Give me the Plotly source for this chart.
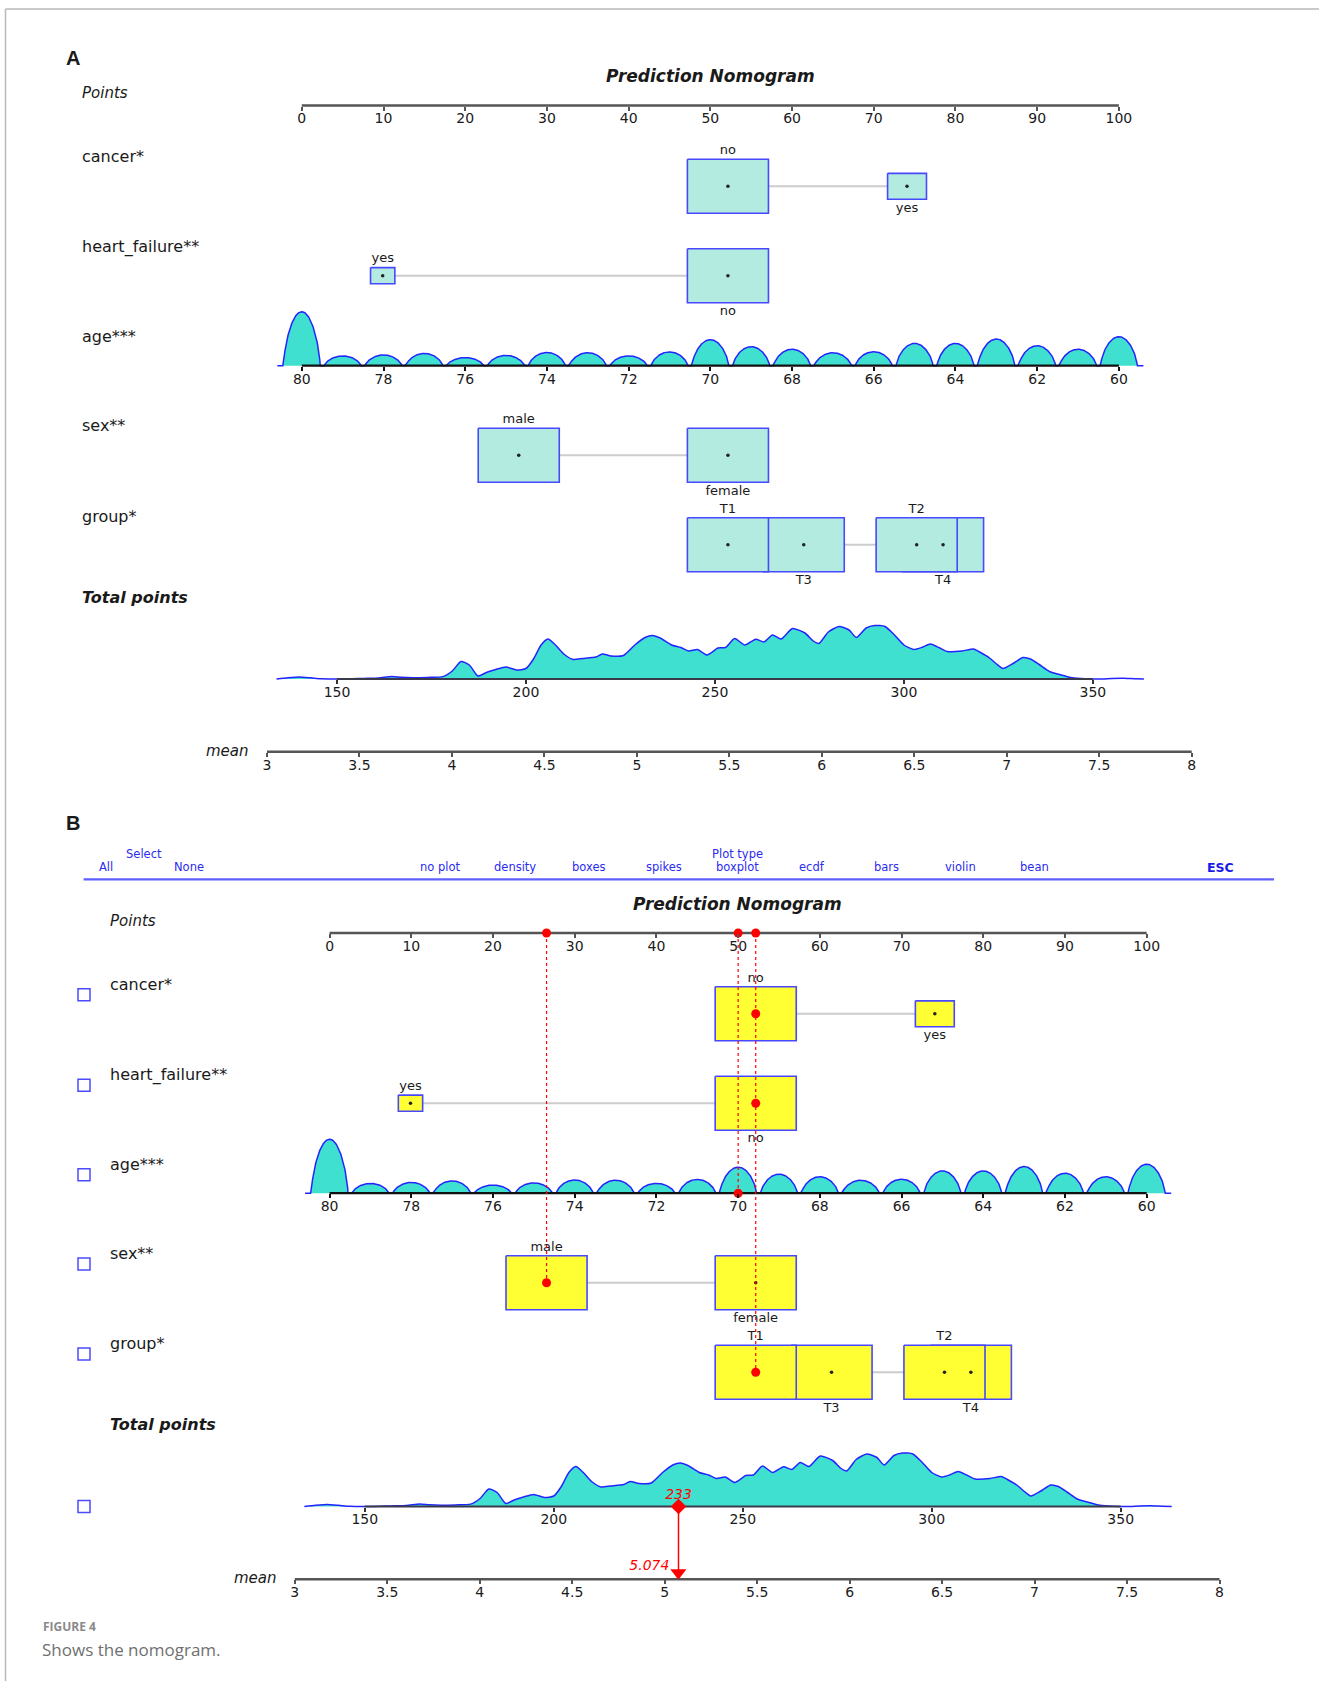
import numpy as np
import plotly.graph_objects as go

W, H = 1319, 1681

# ---------------- nomogram content ----------------
TITLE = "Prediction Nomogram"

POINT_TICKS = [0, 10, 20, 30, 40, 50, 60, 70, 80, 90, 100]
AGE_TICKS = [80, 78, 76, 74, 72, 70, 68, 66, 64, 62, 60]
TOTAL_TICKS = [150, 200, 250, 300, 350]
MEAN_TICKS = [3, 3.5, 4, 4.5, 5, 5.5, 6, 6.5, 7, 7.5, 8]
MEAN_TICK_TEXT = ["3", "3.5", "4", "4.5", "5", "5.5", "6", "6.5", "7", "7.5", "8"]

# categorical predictors: levels, score on the Points scale, relative box size
CANCER_LEVELS = ["no", "yes"]
CANCER_POINTS = [52.15, 74.07]
CANCER_SIZE = [1.0, 0.48]

HF_LEVELS = ["yes", "no"]
HF_POINTS = [9.9, 52.15]
HF_SIZE = [0.30, 1.0]

SEX_LEVELS = ["male", "female"]
SEX_POINTS = [26.55, 52.15]
SEX_SIZE = [1.0, 1.0]

GROUP_LEVELS = ["T1", "T2", "T3", "T4"]
GROUP_POINTS = [52.15, 75.25, 61.43, 78.48]
GROUP_SIZE = [1.0, 1.0, 1.0, 1.0]

# age: linear score, 5 points per year below 80
AGE_ZERO = 80
AGE_POINTS_PER_YEAR = 5
AGE_YEARS = [60, 61, 62, 63, 64, 65, 66, 67, 68, 69, 70,
             71, 72, 73, 74, 75, 76, 77, 78, 79, 80]
AGE_DENSITY = [29.0, 16.5, 20.0, 26.7, 22.3, 22.3, 14.0, 13.0, 16.5, 19.0, 26.0,
               13.8, 9.8, 13.0, 13.2, 10.3, 8.2, 12.3, 10.8, 9.8, 54.0]
AGE_SPAN = [59.4, 80.6]

# distribution of total points
TOTAL_T = [134, 137, 140, 143, 146, 152, 157, 161, 164.5, 167, 170, 174, 178, 180.5,
           182.8, 185, 187.3, 189.5, 192, 194.7, 197.5, 200, 202, 204, 205.8, 207.8,
           210, 212.5, 215, 218.5, 220.2, 222.5, 225.8, 228.8, 231.5, 233.5, 235.5,
           238.5, 241, 243, 245.4, 247.9, 250.8, 252.8, 255.2, 257.9, 260.8, 263,
           265.2, 267.5, 270.5, 273.8, 276, 277.5, 280, 282.8, 285.5, 287.4, 290,
           292.3, 295, 297.5, 300, 302.6, 305, 307, 309.5, 311.5, 315.4, 318.4, 320.5,
           322.5, 324.5, 326.2, 328.9, 331.5, 333.5, 335.8, 338.5, 341.6, 344.5, 348,
           352, 355, 358, 361, 363.5]
TOTAL_D = [0, 1.2, 2.0, 1.2, 0.2, 0, 0.6, 1.0, 2.6, 1.8, 1.3, 1.6, 2.4, 8,
           17.5, 14, 3, 6.5, 9.5, 12, 9, 10.5, 20, 34, 40, 34,
           25, 19.5, 20.5, 22, 25, 23, 23.5, 34, 41.5, 43.5, 41,
           34, 31.5, 28, 29.5, 24, 31, 31.5, 40.5, 34, 39.8, 37,
           44, 40, 50.5, 46, 38, 35.5, 47, 52.5, 49, 41.5, 51,
           53.5, 52.5, 44, 34, 29.5, 32, 35, 31, 27.5, 28, 30, 26,
           21.5, 15, 10.5, 15.5, 21.5, 20, 14.5, 7.5, 4, 1.2, 0.2,
           0, 0.6, 0.8, 0.3, 0]

# the patient evaluated in panel B
OBS = {"cancer*": "no", "heart_failure**": "no", "age***": 70,
       "sex**": "male", "group*": "T1"}
OBS_MEAN = 5.074

MENU_SELECT = ["All", "None"]
MENU_PLOT_TYPES = ["no plot", "density", "boxes", "spikes", "boxplot",
                   "ecdf", "bars", "violin", "bean"]

VARIABLES = [
    ("cancer*", CANCER_LEVELS, CANCER_POINTS, CANCER_SIZE),
    ("heart_failure**", HF_LEVELS, HF_POINTS, HF_SIZE),
    ("age***", None, None, None),
    ("sex**", SEX_LEVELS, SEX_POINTS, SEX_SIZE),
    ("group*", GROUP_LEVELS, GROUP_POINTS, GROUP_SIZE),
]

# ---------------- geometry / styling ----------------
FONT = "DejaVu Sans"
INK = "#1a1a1a"
DENS_LINE = "#2424ff"
BOX_EDGE = "#4848ff"
DENS_FILL = "#40e0d0"
RED = "#ff0000"
MENU_BLUE = "#2b2bef"

PTS_PX0, PTS_SCALE = 301.8, 8.171      # pixel of 0 points, pixels per point
TOT_PX0, TOT_SCALE = 337.0, 3.7795     # pixel of 150 total points
MEAN_PX0, MEAN_SCALE = 267.0, 184.94   # pixel of mean = 3

POINTS_AXIS_Y = 105.5
ROW_LABEL_Y = [156.7, 247.3, 336.7, 426.0, 516.0]
ROW_Y = [186.3, 275.7, 365.7, 455.3, 544.8]
TOTAL_LABEL_Y = 597.4
TOTAL_BASE_Y = 679.0
MEAN_AXIS_Y = 751.7
BOX_W_PTS = 9.92
BOX_H_PX = 54.0
AGE_HALF_WIDTH = 0.45

fig = go.Figure()
axes = {}
n_axes = [0]


def add_xaxis(v0, px0, scale, axis_y=None, ticks=None, ticktext=None,
              tickcolor="#555555", visible=True):
    """Full-width x axis whose value v0 lands on pixel px0 (scale = px per unit)."""
    n_axes[0] += 1
    n = n_axes[0]
    lo = v0 + (0 - px0) / scale
    hi = v0 + (W - px0) / scale
    ax = dict(range=[lo, hi], domain=[0, 1], showgrid=False, zeroline=False,
              showline=False, fixedrange=True, automargin=False)
    if n > 1:
        ax["overlaying"] = "x"
    if visible:
        ax.update(anchor="free", position=1 - axis_y / H, side="bottom",
                  tickmode="array", tickvals=ticks,
                  ticktext=ticktext if ticktext else [str(t) for t in ticks],
                  ticks="outside", ticklen=4, tickwidth=1.5, tickcolor=tickcolor,
                  ticklabelstandoff=-4,
                  tickfont=dict(family=FONT, size=14, color=INK),
                  showticklabels=True)
    else:
        ax["visible"] = False
    axes["xaxis" if n == 1 else f"xaxis{n}"] = ax
    return "x" if n == 1 else f"x{n}"


def ann(text, x, y, size, color=INK, xanchor="left", family=FONT):
    fig.add_annotation(text=text, x=x / W, y=1 - y / H, xref="paper", yref="paper",
                       showarrow=False, xanchor=xanchor, yanchor="middle",
                       font=dict(family=family, size=size, color=color))


def line_trace(xref, xs, ys, color, width, dash="solid"):
    fig.add_trace(go.Scatter(x=xs, y=ys, xaxis=xref, yaxis="y", mode="lines",
                             line=dict(color=color, width=width, dash=dash),
                             hoverinfo="skip", showlegend=False))


def marker_trace(xref, xs, ys, symbol, size, color):
    fig.add_trace(go.Scatter(x=xs, y=ys, xaxis=xref, yaxis="y", mode="markers",
                             marker=dict(symbol=symbol, size=size, color=color,
                                         line=dict(width=0)),
                             cliponaxis=False, hoverinfo="skip", showlegend=False))


def text_trace(xref, xs, ys, texts, size, color=INK, position="middle center"):
    fig.add_trace(go.Scatter(x=xs, y=ys, xaxis=xref, yaxis="y", mode="text",
                             text=texts, textposition=position,
                             textfont=dict(family=FONT, size=size, color=color),
                             cliponaxis=False, hoverinfo="skip", showlegend=False))


def draw_panel(dx, dy, box_fill, obs=None):
    def Y(v):
        return v + dy

    xp = add_xaxis(0, PTS_PX0 + dx, PTS_SCALE, Y(POINTS_AXIS_Y), POINT_TICKS)
    xa = add_xaxis(AGE_ZERO, PTS_PX0 + dx, -PTS_SCALE * AGE_POINTS_PER_YEAR,
                   Y(ROW_Y[2]), AGE_TICKS, tickcolor="#111111")
    xt = add_xaxis(TOTAL_TICKS[0], TOT_PX0 + dx, TOT_SCALE, Y(TOTAL_BASE_Y),
                   TOTAL_TICKS, tickcolor="#333333")
    xm = add_xaxis(MEAN_TICKS[0], MEAN_PX0 + dx, MEAN_SCALE, Y(MEAN_AXIS_Y),
                   MEAN_TICKS, MEAN_TICK_TEXT)
    xo = add_xaxis(0, PTS_PX0 + dx, PTS_SCALE, visible=False)

    # headings
    ann(f"<b><i>{TITLE}</i></b>", 710 + dx, Y(76), 17, xanchor="center")
    ann("<i>Points</i>", 80 + dx, Y(93.3), 15)
    ann("<b><i>Total points</i></b>", 80 + dx, Y(TOTAL_LABEL_Y), 16)
    ann("<i>mean</i>", 251 + dx, Y(750.5), 15, xanchor="right")

    # Points scale
    line_trace(xp, [POINT_TICKS[0], POINT_TICKS[-1]], [Y(POINTS_AXIS_Y)] * 2, "#555555", 2.5)

    obs_marks = []
    for i, (name, levels, pts, size) in enumerate(VARIABLES):
        ann(name, 80 + dx, Y(ROW_LABEL_Y[i]), 16)
        ry = Y(ROW_Y[i])
        if levels is None:
            # age spikes on its own scale
            grid = np.linspace(AGE_SPAN[0], AGE_SPAN[1], 2200)
            dens = np.zeros_like(grid)
            for a, h in zip(AGE_YEARS, AGE_DENSITY):
                u = (grid - a) / AGE_HALF_WIDTH
                dens += h * np.clip(1 - u ** 2, 0, None) ** 0.7
            fig.add_trace(go.Scatter(x=grid, y=ry - dens, xaxis=xa, yaxis="y",
                                     mode="lines", fill="toself", fillcolor=DENS_FILL,
                                     line=dict(color=DENS_LINE, width=1.5),
                                     hoverinfo="skip", showlegend=False))
            line_trace(xa, [AGE_TICKS[0], AGE_TICKS[-1]], [ry, ry], "#111111", 2.2)
            if obs is not None:
                obs_marks.append(((AGE_ZERO - obs[name]) * AGE_POINTS_PER_YEAR, ry))
            continue

        line_trace(xp, [min(pts), max(pts)], [ry, ry], "#cccccc", 2)
        for j in reversed(range(len(levels))):
            w = BOX_W_PTS * size[j]
            h = BOX_H_PX * size[j]
            x0, x1 = pts[j] - w / 2, pts[j] + w / 2
            fig.add_trace(go.Scatter(x=[x0, x1, x1, x0, x0],
                                     y=[ry - h / 2, ry - h / 2, ry + h / 2, ry + h / 2, ry - h / 2],
                                     xaxis=xp, yaxis="y", mode="lines", fill="toself",
                                     fillcolor=box_fill,
                                     line=dict(color=BOX_EDGE, width=1.6),
                                     hoverinfo="skip", showlegend=False))
        chosen = obs[name] if obs is not None else None
        dots = [pts[j] for j in range(len(levels)) if levels[j] != chosen]
        marker_trace(xp, dots, [ry] * len(dots), "circle", 3.5, "#222222")
        if chosen is not None:
            obs_marks.append((pts[levels.index(chosen)], ry))

        # level names alternate above / below along the scale
        order = sorted(range(len(levels)), key=lambda j: pts[j])
        lx, ly, lt = [], [], []
        for rank, j in enumerate(order):
            h = BOX_H_PX * size[j]
            lx.append(pts[j])
            ly.append(ry - h / 2 - 8.5 if rank % 2 == 0 else ry + h / 2 + 9.0)
            lt.append(levels[j])
        text_trace(xp, lx, ly, lt, 13)

    # total points distribution
    tb = Y(TOTAL_BASE_Y)
    fig.add_trace(go.Scatter(x=TOTAL_T, y=[tb - d for d in TOTAL_D], xaxis=xt, yaxis="y",
                             mode="lines", fill="toself", fillcolor=DENS_FILL,
                             line=dict(color=DENS_LINE, width=1.5, shape="spline",
                                       smoothing=0.6),
                             hoverinfo="skip", showlegend=False))
    line_trace(xt, [TOTAL_TICKS[0], TOTAL_TICKS[-1]], [tb, tb], "#3a3a4a", 2)

    # mean scale
    line_trace(xm, [MEAN_TICKS[0], MEAN_TICKS[-1]], [Y(MEAN_AXIS_Y)] * 2, "#555555", 2.5)

    if obs is None:
        return

    # patient: scores
    ay = Y(POINTS_AXIS_Y)
    uniq = {}
    for v, yy in obs_marks:
        key = round(v, 3)
        uniq[key] = max(uniq.get(key, yy), yy)
    for v, ybot in uniq.items():
        line_trace(xo, [v, v], [ay, ybot], RED, 1.2, dash="dot")
    marker_trace(xo, list(uniq.keys()), [ay] * len(uniq), "circle", 9, RED)
    marker_trace(xo, [v for v, _ in obs_marks], [yy for _, yy in obs_marks], "circle", 9, RED)

    total = sum(v for v, _ in obs_marks)
    my = Y(MEAN_AXIS_Y)
    line_trace(xt, [total, total], [tb, my - 6], RED, 1.5)
    marker_trace(xt, [total], [tb], "diamond", 12, RED)
    text_trace(xt, [total], [tb - 11], [f"<i>{total:.0f}</i>"], 14, RED)
    marker_trace(xm, [OBS_MEAN], [my - 6.5], "triangle-down", 14, RED)
    text_trace(xm, [OBS_MEAN], [my - 13], [f"<i>{OBS_MEAN:.3f}</i>  "], 14, RED,
               position="middle left")


# ---------------- panel A ----------------
ann("<b>A</b>", 73, 58, 20, family="Liberation Sans", xanchor="center")
draw_panel(0, 0, "#b3ebe0")

# ---------------- panel B (interactive view with a patient) ----------------
DX_B, DY_B = 27.8, 827.5
ann("<b>B</b>", 73, 822.5, 20, family="Liberation Sans", xanchor="center")

ann("Select", 143.7, 854.5, 11.5, MENU_BLUE, xanchor="center")
for label, x in zip(MENU_SELECT, [106.2, 188.7]):
    ann(label, x, 867.3, 11.5, MENU_BLUE, xanchor="center")
ann("Plot type", 737.8, 854.5, 11.5, MENU_BLUE, xanchor="center")
for k, label in enumerate(MENU_PLOT_TYPES):
    ann(label, 440.8 + 74.26 * k, 867.3, 11.5, MENU_BLUE, xanchor="center")
ann("<b>ESC</b>", 1220.4, 867.3, 12.5, "#1a1ae6", xanchor="center")
fig.add_shape(type="line", xref="paper", yref="paper", x0=83.6 / W, x1=1274 / W,
              y0=1 - 879.4 / H, y1=1 - 879.4 / H, line=dict(color="#5f5fff", width=2.2))

draw_panel(DX_B, DY_B, "#ffff33", obs=OBS)

# check boxes beside each row
for cy in [v + 10.5 + DY_B for v in ROW_LABEL_Y] + [TOTAL_BASE_Y + DY_B]:
    fig.add_shape(type="rect", xref="paper", yref="paper",
                  x0=(84 - 6) / W, x1=(84 + 6) / W, y0=1 - (cy - 6) / H, y1=1 - (cy + 6) / H,
                  line=dict(color="#4b4bff", width=1.5), fillcolor="rgba(0,0,0,0)")

# page frame and caption
fig.add_shape(type="line", xref="paper", yref="paper", x0=5.5 / W, x1=1,
              y0=1 - 9 / H, y1=1 - 9 / H, line=dict(color="#b8b8b8", width=1.5))
fig.add_shape(type="line", xref="paper", yref="paper", x0=5.5 / W, x1=5.5 / W,
              y0=0, y1=1 - 9 / H, line=dict(color="#b8b8b8", width=1.5))
ann("<b>FIGURE 4</b>", 40.5, 1626, 12, "#8a8a8a", family="Open Sans")
ann("Shows the nomogram.", 40, 1649, 17, "#707070", family="Open Sans")

fig.update_layout(
    width=W, height=H, margin=dict(l=0, r=0, t=0, b=0),
    template="none", paper_bgcolor="white", plot_bgcolor="white",
    showlegend=False, hovermode=False,
    yaxis=dict(range=[H, 0], domain=[0, 1], visible=False, fixedrange=True),
    **axes,
)

fig.write_html("out.html")
